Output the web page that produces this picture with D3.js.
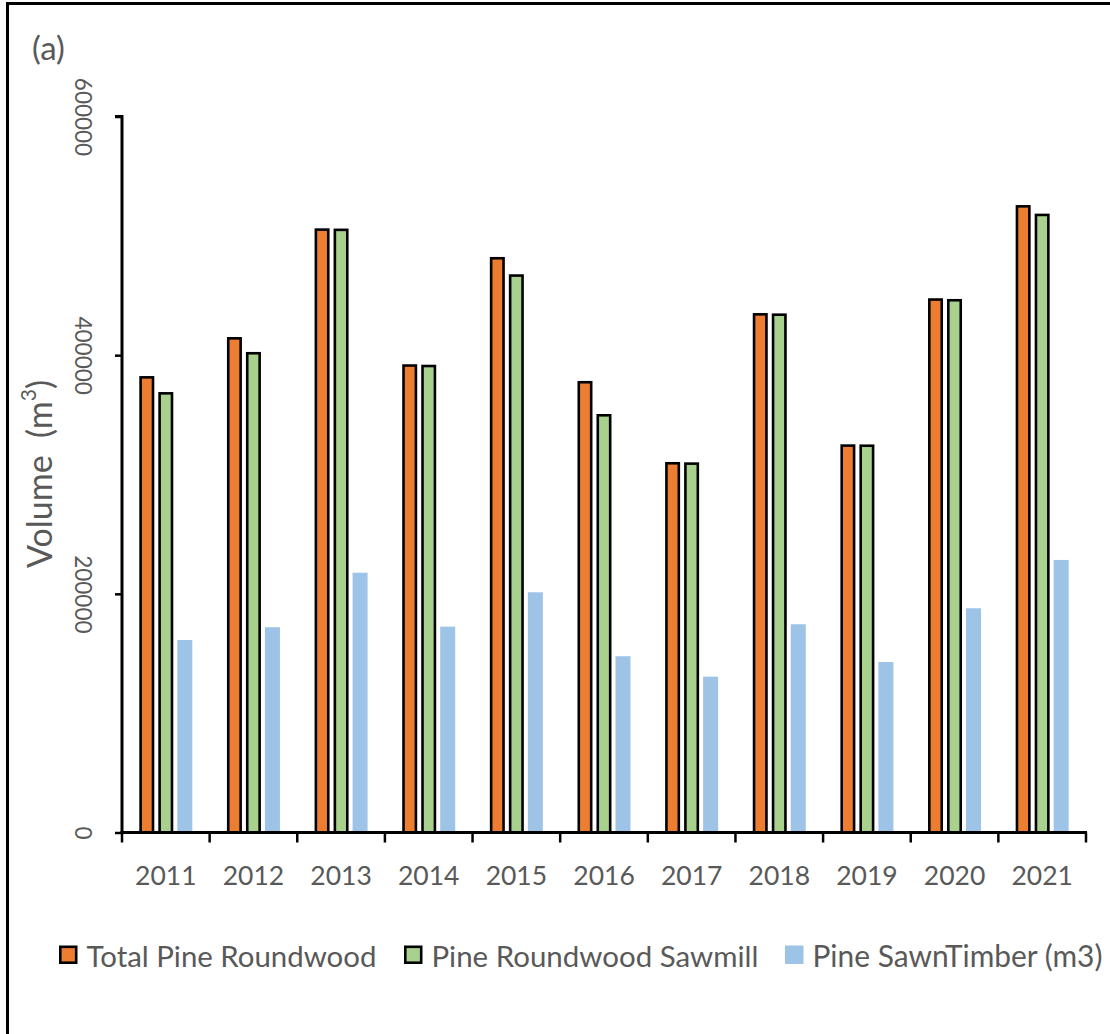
<!DOCTYPE html>
<html><head><meta charset="utf-8">
<script src="https://cdn.jsdelivr.net/npm/d3@7"></script>
<style>
body{margin:0;background:#fff}
text{font-family:Lato,"Open Sans",sans-serif;fill:#595959}
</style>
</head><body>
<svg id="c" width="1110" height="1034"></svg>
<script>
const years = ["2011","2012","2013","2014","2015","2016","2017","2018","2019","2020","2021"];
const totalPineRoundwood = [382500,415200,506300,392400,482300,378400,310500,435300,325300,447700,525800];
const pineRoundwoodSawmill = [369100,402700,506100,392000,467800,350700,310200,435000,325200,447100,518600];
const pineSawnTimber = [161300,172000,217700,172500,201300,147700,130600,174500,142900,187900,228400];
const yTicks = [0,200000,400000,600000];
const seriesNames = ["Total Pine Roundwood","Pine Roundwood Sawmill","Pine SawnTimber (m3)"];
const seriesColors = ["#ED7D31","#A9D18E","#9DC3E6"];
const seriesStroke = [true,true,false];

const series = [totalPineRoundwood, pineRoundwoodSawmill, pineSawnTimber];
const svg = d3.select("#c");

// outer frame
svg.append("rect").attr("x",7.5).attr("y",3.5).attr("width",1200).attr("height",1100)
  .attr("fill","none").attr("stroke","#000").attr("stroke-width",3);

const x0 = d3.scaleBand().domain(years).range([122,1086]).paddingInner(0).paddingOuter(0);
const x1 = d3.scaleBand().domain([0,1,2]).range([17.3,70.3]).paddingInner(4/19).paddingOuter(0);
const y = d3.scaleLinear().domain([0,600000]).range([832.5,116.5]);

// bars
const g = svg.append("g");
series.forEach((vals,si)=>{
  const sw = seriesStroke[si] ? 2.6 : 0;
  g.selectAll(null).data(years).enter().append("rect")
    .attr("x",(d)=>x0(d)+x1(si)+sw/2)
    .attr("width",x1.bandwidth()-sw)
    .attr("y",(d,i)=>y(vals[i])+sw/2)
    .attr("height",(d,i)=>y(0)-y(vals[i])-sw/2)
    .attr("fill",seriesColors[si])
    .attr("stroke",seriesStroke[si]?"#000":"none")
    .attr("stroke-width",sw);
});

// y axis
const ya = svg.append("g").attr("transform","translate(122,0)")
  .call(d3.axisLeft(y).tickValues(yTicks).tickSize(7).tickFormat(d3.format("d")));
ya.select(".domain").attr("stroke","#000").attr("stroke-width",3).attr("d","M-7,116.5H0V832.5");
ya.selectAll(".tick line").attr("stroke","#000").attr("stroke-width",2.5);
ya.selectAll(".tick text").attr("x",null).attr("dy",null)
  .attr("transform","translate(-38.5,0) rotate(90)")
  .attr("text-anchor","middle").attr("dominant-baseline","central")
  .style("font-size","22.5px").style("fill","#595959");

// x axis
const xa = svg.append("g").attr("transform","translate(0,832.5)")
  .call(d3.axisBottom(x0).tickSize(0).tickPadding(0));
xa.select(".domain").attr("stroke","#000").attr("stroke-width",3).attr("d","M120.5,0H1087");
xa.selectAll(".tick text").attr("y",42).attr("dy",null).attr("dominant-baseline","central")
  .style("font-size","26.5px").style("fill","#595959");
const bounds = years.map(d=>x0(d)).concat([x0(years[years.length-1])+x0.bandwidth()]);
xa.selectAll("line.sep").data(bounds).enter().append("line").attr("class","sep")
  .attr("x1",d=>d).attr("x2",d=>d).attr("y1",0).attr("y2",10)
  .attr("stroke","#000").attr("stroke-width",2.5);

// y title
const yt = svg.append("text").attr("transform","translate(38,474) rotate(-90)")
  .attr("text-anchor","middle").attr("dominant-baseline","central")
  .attr("xml:space","preserve").style("white-space","pre").style("font-size","34px");
yt.append("tspan").text("Volume  (m");
yt.append("tspan").text("3").style("font-size","21px").attr("dy","-11");
yt.append("tspan").text(")").attr("dy","11");

// panel label
svg.append("text").attr("x",32).attr("y",60).style("font-size","33px").text("(a)");

// legend
const legX = [59,404,785];
const targetW = [290,327,290];
const lg = svg.append("g");
seriesNames.forEach((n,i)=>{
  const sw = seriesStroke[i] ? 2.6 : 0;
  lg.append("rect").attr("x",legX[i]+sw/2).attr("y",945.5+sw/2)
    .attr("width",18.5-sw).attr("height",18.5-sw)
    .attr("fill",seriesColors[i]).attr("stroke",seriesStroke[i]?"#000":"none").attr("stroke-width",sw);
  const t = lg.append("text").attr("x",legX[i]+27.5).attr("y",955)
    .attr("dominant-baseline","central").style("font-size","26px").text(n);
  const w = t.node().getComputedTextLength();
  t.style("font-size",(26*targetW[i]/w).toFixed(2)+"px");
});
</script>
</body></html>
